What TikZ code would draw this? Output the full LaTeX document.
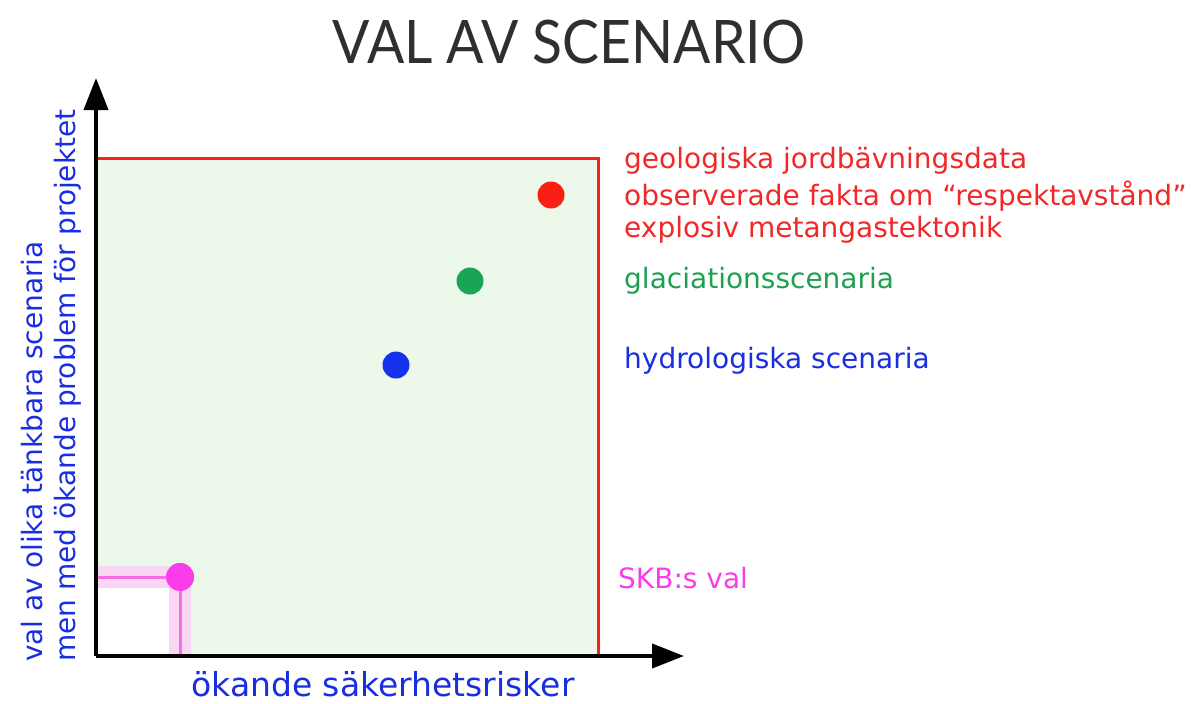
\documentclass[tikz,border=0pt]{standalone}
\usepackage{fontspec}
\setmainfont{DejaVu Sans}
\newfontfamily\titlefont{Lato}
\usetikzlibrary{arrows.meta}
\definecolor{titlegray}{RGB}{50,46,46}
\definecolor{boxred}{RGB}{250,30,20}
\definecolor{txtred}{RGB}{240,40,40}
\definecolor{fillgreen}{RGB}{236,248,234}
\definecolor{dotgreen}{RGB}{25,165,85}
\definecolor{txtgreen}{RGB}{30,160,80}
\definecolor{dotblue}{RGB}{20,50,235}
\definecolor{txtblue}{RGB}{25,45,225}
\definecolor{skbmag}{RGB}{250,60,235}
\definecolor{skbline}{RGB}{245,110,225}
\definecolor{skbhalo}{RGB}{249,214,243}
\tikzset{
  axis/.style={line width=4pt, -{Triangle[length=32pt,width=24pt]}},
  dot/.style={circle, fill=#1, inner sep=0pt, minimum size=27pt},
  lbl/.style={anchor=west, inner sep=0pt, font=\fontsize{28}{32}\selectfont},
  halo/.style={skbhalo, line width=22pt},
  skb/.style={skbline, line width=3pt}
}
\begin{document}
\begin{tikzpicture}[x=1pt,y=-1pt]
\useasboundingbox (0,0) rectangle (1194,704);
% region
\fill[fillgreen] (98,158) rectangle (598,656);
\fill[white] (98,577) rectangle (180,656);
\draw[boxred, line width=3pt] (98,158) -- (598,158) -- (598,656);
% SKB lines
\coordinate (skbh) at (98,577);
\coordinate (skbv) at (180,656);
\node[dot=skbmag, minimum size=28pt] (skb) at (180,577) {};
\draw[halo] (skbh) -- (skb.center);
\draw[halo] (skb.center) -- (skbv);
\draw[skb] (skbh) -- (skb);
\draw[skb] (skb) -- (skbv);
\node[dot=skbmag, minimum size=28pt] at (skb.center) {};
% axes
\coordinate (o) at (96,656);
\coordinate (ytip) at (96,78);
\coordinate (xtip) at (684,656);
\draw[axis] (o) -- (ytip);
\draw[axis] (96,656) -- (xtip);
% dots
\node[dot=boxred] (dred) at (551,195) {};
\node[dot=dotgreen] (dgreen) at (470,281) {};
\node[dot=dotblue] (dblue) at (396,365) {};
% title
\node[titlegray, inner sep=0pt, xscale=0.92, font=\titlefont\fontsize{60}{60}\selectfont] (title) at (569,42) {VAL AV SCENARIO};
% labels
\node[lbl, txtred] (l1) at (624,161) {geologiska jordbävningsdata};
\node[lbl, txtred] (l2) at (624,196) {observerade fakta om “respektavstånd”};
\node[lbl, txtred] (l3) at (624,230) {explosiv metangastektonik};
\node[lbl, txtgreen] (l4) at (624,281) {glaciationsscenaria};
\node[lbl, txtblue] (l5) at (624,361) {hydrologiska scenaria};
\node[lbl, skbmag] (l6) at (618,578) {SKB:s val};
\node[txtblue, inner sep=0pt, anchor=base, font=\fontsize{33}{36}\selectfont] (xl) at (383,696) {ökande säkerhetsrisker};
\node[lbl, txtblue, rotate=90] (y1) at (32,662) {val av olika tänkbara scenaria};
\node[lbl, txtblue, rotate=90] (y2) at (68,662) {men med ökande problem för projektet};
\end{tikzpicture}
\end{document}
